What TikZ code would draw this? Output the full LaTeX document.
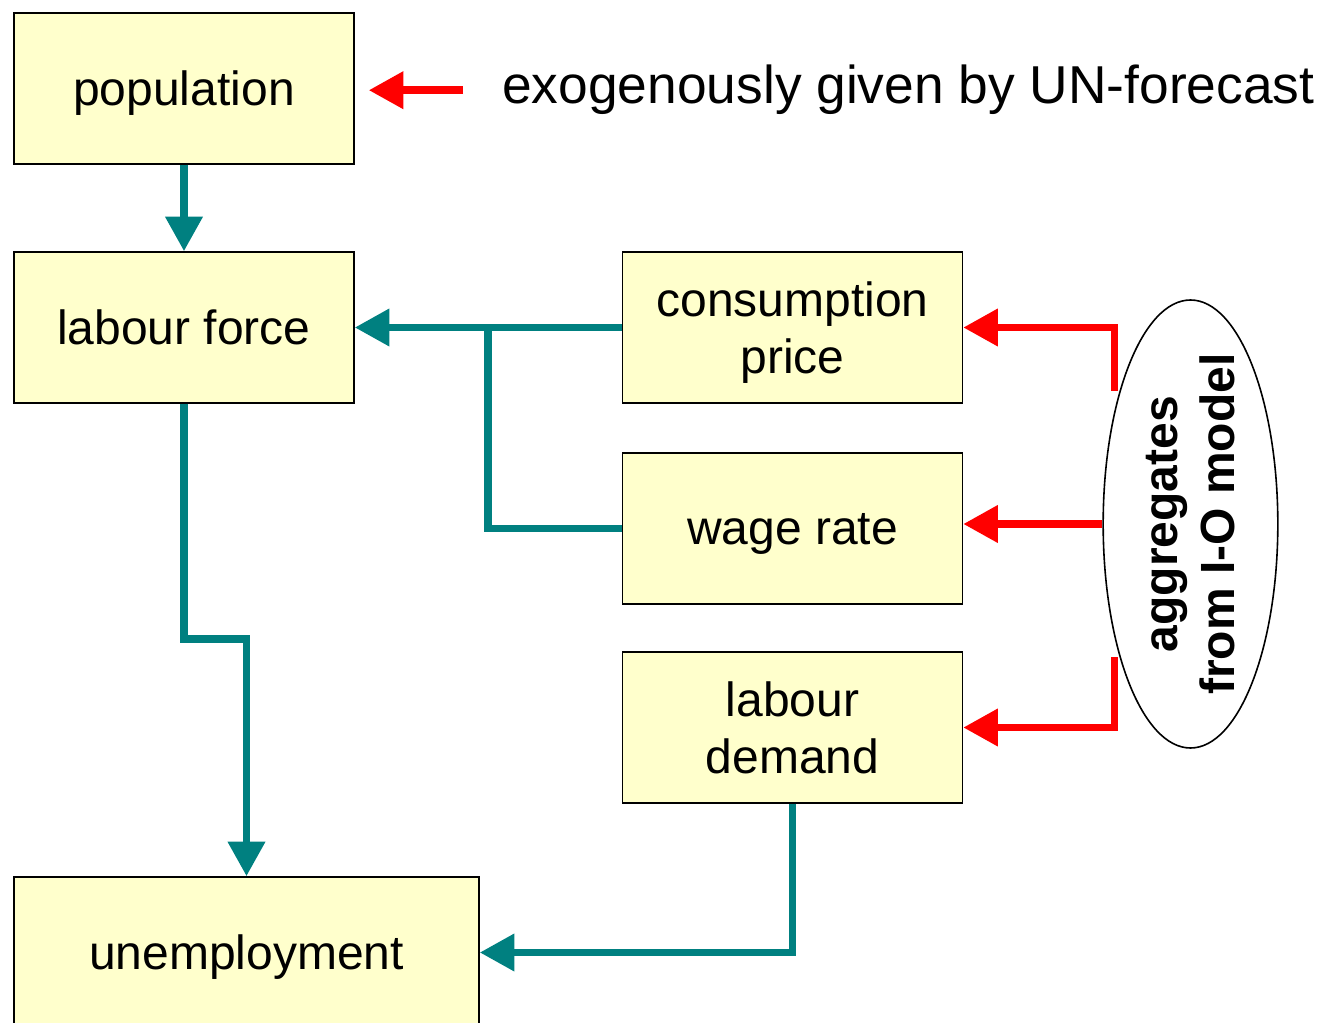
\documentclass[tikz,border=0pt]{standalone}
\usepackage{fontspec}
\setmainfont{Liberation Sans}
\usetikzlibrary{positioning}
\usetikzlibrary{calc}
\usetikzlibrary{arrows.meta}
\usetikzlibrary{shapes.geometric}

\definecolor{boxfill}{RGB}{255,255,204}
\definecolor{flowteal}{RGB}{0,128,128}
\definecolor{inred}{RGB}{255,0,0}

\begin{document}
\begin{tikzpicture}[x=0.75pt, y=-0.75pt, >={Triangle[width=27pt,length=26pt]}]
  % definition of the basic styles.
  \tikzstyle{box}=[draw=black, line width=1.2pt, fill=boxfill, minimum width=255pt,
    minimum height=113.25pt, inner sep=0pt, align=center,
    font=\fontsize{36}{42.75}\selectfont]
  \tikzstyle{single}=[text depth=0pt]
  \tikzstyle{flow}=[->, draw=flowteal, line width=5.6pt]
  \tikzstyle{input}=[->, draw=inred, line width=5.6pt]

  % The page
  \useasboundingbox (0,0) rectangle (1322,1023);

  % The boxes of the labour market block
  \node[box, single] (pop) at (184,88.5) {population};
  \node[box, single] (lf) at (184,327.5) {labour force};
  \node[box] (cp) at (792.5,327.5) {consumption\\\smash{price}};
  \node[box, single] (wr) at (792.5,528.5) {wage rate};
  \node[box] (ld) at (792.5,727.5) {labour\\demand};
  \node[box, single, minimum width=348.75pt] (un) at (246.5,952.5) {unemployment};

  % The I-O model and the forecast note
  \node[draw, ellipse, line width=1.2pt, minimum width=131pt, minimum height=336pt,
    inner sep=0pt] (io) at (1190.5,524) {};
  \node[rotate=90, align=center, font=\fontsize{36}{42.75}\selectfont\bfseries]
    (iotext) at (io.center) {aggregates\\from I-O model};
  \node[anchor=base west, inner sep=0pt, font=\fontsize{40}{48}\selectfont]
    (note) at (502,104) {exogenously given by UN-forecast};

  % Teal connectors.
  \coordinate (split) at (488,327.5);
  \draw[flow] (pop) -- (lf);
  \draw[flow] (cp) -- (lf);
  \draw[flow, -] (wr.west) -| (split);
  \draw[flow] (lf.south) -- ++(0,235) -| (un.north);
  \draw[flow] (ld.south) |- (un.east);

  % Red inputs.
  \coordinate (exo) at ($(note.west)+(-39,0)$);
  \draw[input, shorten >=10.5pt] (exo) -- (exo -| pop.east);
  \draw[input] ([xshift=-3.75pt]io.118) |- (cp.east);
  \draw[input] (io.west) -- (io.west -| wr.east);
  \draw[input] ([xshift=-3.75pt]io.242) |- (ld.east);
\end{tikzpicture}
\end{document}
